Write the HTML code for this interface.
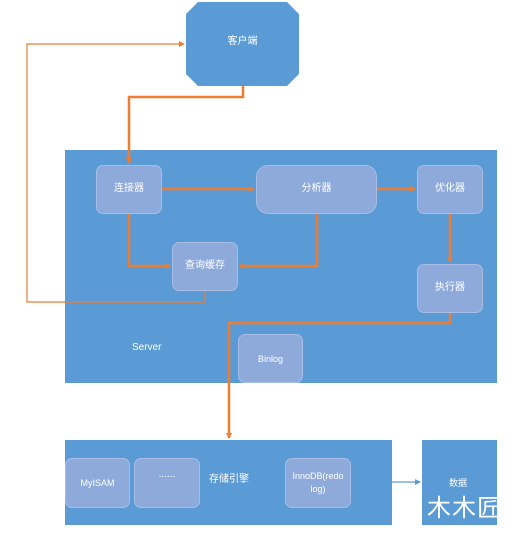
<!DOCTYPE html>
<html><head><meta charset="utf-8"><style>
body{margin:0;width:532px;height:539px;background:#fff;position:relative;overflow:hidden;font-family:"Liberation Sans","Noto Sans CJK SC",sans-serif;}
.a{position:absolute;}
.big{background:#5b9bd5;}
.n{position:absolute;background:#8eaadb;border:1px solid #a7bde6;border-radius:7px;color:#fff;font-size:10px;display:flex;align-items:center;justify-content:center;text-align:center;box-sizing:border-box;}
.t{position:absolute;color:#fff;font-size:10px;}
</style></head><body>
<svg class="a" style="left:0;top:0" width="532" height="539">
<polygon points="198,2 287,2 299,14 299,74 287,86 198,86 186,74 186,14" fill="#5b9bd5"/>
</svg>
<div class="t" style="left:186px;top:32px;width:113px;text-align:center">客户端</div>
<div class="a big" style="left:65px;top:150px;width:432px;height:233px"></div>
<div class="t" style="left:132px;top:342px">Server</div>
<div class="n" style="left:96px;top:165px;width:66px;height:49px;align-items:flex-start;padding-top:13px">连接器</div>
<div class="n" style="left:256px;top:165px;width:121px;height:49px;border-radius:12px;align-items:flex-start;padding-top:13px">分析器</div>
<div class="n" style="left:417px;top:165px;width:66px;height:49px;align-items:flex-start;padding-top:13px">优化器</div>
<div class="n" style="left:172px;top:242px;width:66px;height:49px;align-items:flex-start;padding-top:13px">查询缓存</div>
<div class="n" style="left:417px;top:264px;width:66px;height:49px;align-items:flex-start;padding-top:13px">执行器</div>
<div class="n" style="left:238px;top:334px;width:65px;height:49px;font-size:9px">Binlog</div>
<div class="a big" style="left:65px;top:440px;width:327px;height:85px"></div>
<div class="n" style="left:65px;top:458px;width:65px;height:50px;font-size:9px">MyISAM</div>
<div class="n" style="left:134px;top:458px;width:66px;height:50px;align-items:flex-start;padding-top:10px">......</div>
<div class="t" style="left:209px;top:470px">存储引擎</div>
<div class="n" style="left:285px;top:458px;width:66px;height:50px;font-size:9px;line-height:13px">InnoDB(redo<br>log)</div>
<div class="a big" style="left:422px;top:440px;width:75px;height:85px"></div>
<div class="t" style="left:449px;top:476px;font-size:9px">数据</div>
<div class="t" style="left:427px;top:495px;font-size:24px;line-height:28px;color:#fff;letter-spacing:1px;white-space:nowrap;overflow:hidden;width:70px">木木匠</div>
<svg class="a" style="left:0;top:0" width="532" height="539">
<defs>
<marker id="m" markerWidth="6" markerHeight="6" refX="5" refY="3" orient="auto" markerUnits="userSpaceOnUse"><path d="M0,0L6,3L0,6z" fill="#ed7d31"/></marker>
<marker id="b" markerWidth="6" markerHeight="6" refX="5" refY="3" orient="auto" markerUnits="userSpaceOnUse"><path d="M0,0L6,3L0,6z" fill="#5b9bd5"/></marker>
</defs>
<g fill="none" stroke="#ed7d31" stroke-width="2.5">
<polyline points="243,86 243,97 129,97 129,163" marker-end="url(#m)"/>
<polyline points="162,189 254,189" marker-end="url(#m)"/>
<polyline points="377,189 415,189" marker-end="url(#m)"/>
<polyline points="129,214 129,266 170,266" marker-end="url(#m)"/>
<polyline points="317,214 317,266 239,266" marker-end="url(#m)"/>
<polyline points="450,214 450,262" marker-end="url(#m)"/>
<polyline points="450,313 450,323 229,323 229,438" marker-end="url(#m)"/>
</g>
<polyline points="205,291 205,302 27,302 27,44 184,44" fill="none" stroke="#ed7d31" stroke-width="1.2" marker-end="url(#m)"/>
<polyline points="392,482 420,482" fill="none" stroke="#5b9bd5" stroke-width="1.2" marker-end="url(#b)"/>
</svg>
</body></html>
